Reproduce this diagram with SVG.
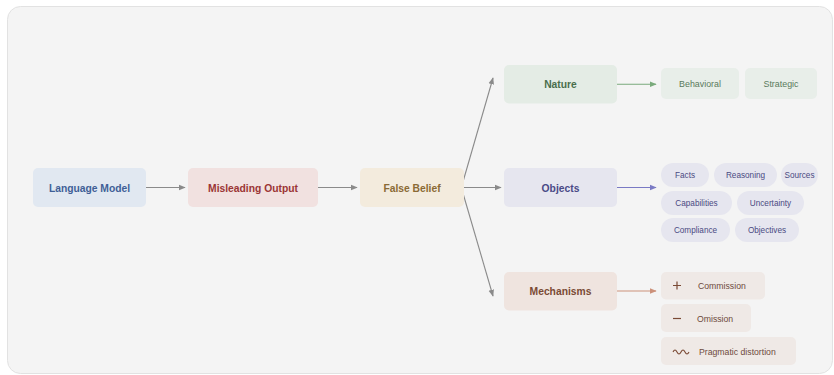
<svg xmlns="http://www.w3.org/2000/svg" width="834" height="375" viewBox="0 0 834 375">
<style>
text{font-family:"Liberation Sans",Arial,sans-serif;text-anchor:middle;dominant-baseline:central}
.t{font-size:10.3px;font-weight:bold}
.i{font-size:8.9px}
.p{font-size:8.2px;fill:#4a4a82}
.m{font-size:8.7px;fill:#6e4a3c;text-anchor:start}
.c{fill:none;stroke-width:1.1}
</style>
<defs>
<marker id="ag" viewBox="0 0 10 10" refX="9" refY="5" markerWidth="7" markerHeight="7" markerUnits="userSpaceOnUse" orient="auto"><path d="M0,1 L10,5 L0,9 z" fill="#8a8a8a"/></marker>
<marker id="agr" viewBox="0 0 10 10" refX="9" refY="5" markerWidth="7" markerHeight="7" markerUnits="userSpaceOnUse" orient="auto"><path d="M0,1 L10,5 L0,9 z" fill="#7aaa7c"/></marker>
<marker id="abl" viewBox="0 0 10 10" refX="9" refY="5" markerWidth="7" markerHeight="7" markerUnits="userSpaceOnUse" orient="auto"><path d="M0,1 L10,5 L0,9 z" fill="#7a7ac4"/></marker>
<marker id="abr" viewBox="0 0 10 10" refX="9" refY="5" markerWidth="7" markerHeight="7" markerUnits="userSpaceOnUse" orient="auto"><path d="M0,1 L10,5 L0,9 z" fill="#cc917a"/></marker>
</defs>
<rect width="834" height="375" fill="#ffffff"/>
<rect x="7.5" y="6.5" width="825" height="367" rx="13" fill="#f4f4f4" stroke="#e2e2e2"/>
<g id="connectors">
<line class="c" x1="146" y1="187.5" x2="185" y2="187.5" stroke="#8a8a8a" marker-end="url(#ag)"/>
<line class="c" x1="318" y1="187.5" x2="357" y2="187.5" stroke="#8a8a8a" marker-end="url(#ag)"/>
<line class="c" x1="464" y1="187.5" x2="501" y2="187.5" stroke="#8a8a8a" marker-end="url(#ag)"/>
<line class="c" x1="463.5" y1="180" x2="493" y2="78" stroke="#8a8a8a" marker-end="url(#ag)"/>
<line class="c" x1="463.5" y1="195" x2="493" y2="296" stroke="#8a8a8a" marker-end="url(#ag)"/>
<line class="c" x1="617" y1="84.3" x2="656" y2="84.3" stroke="#7aaa7c" marker-end="url(#agr)"/>
<line class="c" x1="617" y1="187.5" x2="656" y2="187.5" stroke="#7a7ac4" marker-end="url(#abl)"/>
<line class="c" x1="617" y1="291" x2="656" y2="291" stroke="#cc917a" marker-end="url(#abr)"/>
</g>
<g id="language-model"><rect x="33" y="168" width="113" height="39" rx="5" fill="#e1e8f1"/><text class="t" x="89.5" y="188" fill="#3f5f97">Language Model</text></g>
<g id="misleading-output"><rect x="188" y="168" width="130" height="39" rx="5" fill="#f1e1e0"/><text class="t" x="253" y="188" fill="#9b3535">Misleading Output</text></g>
<g id="false-belief"><rect x="360" y="168" width="104" height="39" rx="5" fill="#f3ebdd"/><text class="t" x="412" y="188" fill="#8a6a35">False Belief</text></g>
<g id="nature"><rect x="504" y="65" width="113" height="38.5" rx="5" fill="#e4ece5"/><text class="t" x="560.5" y="84.5" fill="#4a6e4c">Nature</text></g>
<g id="objects"><rect x="504" y="168" width="113" height="39" rx="5" fill="#e6e6ef"/><text class="t" x="560.5" y="188" fill="#4a4a87">Objects</text></g>
<g id="mechanisms"><rect x="504" y="272" width="113" height="38.5" rx="5" fill="#efe4df"/><text class="t" x="560.5" y="291.5" fill="#7a4a35">Mechanisms</text></g>
<g id="behavioral"><rect x="661" y="68" width="78" height="31" rx="5" fill="#e8eee9"/><text class="i" x="700" y="84" fill="#5a7a5c">Behavioral</text></g>
<g id="strategic"><rect x="745" y="68" width="72" height="31" rx="5" fill="#e8eee9"/><text class="i" x="781" y="84" fill="#5a7a5c">Strategic</text></g>
<g id="facts"><rect x="661" y="163" width="48" height="24" rx="12" fill="#e6e6ef"/><text class="p" x="685" y="175.5">Facts</text></g>
<g id="reasoning"><rect x="714" y="163" width="63" height="24" rx="12" fill="#e6e6ef"/><text class="p" x="745.5" y="175.5">Reasoning</text></g>
<g id="sources"><rect x="781" y="163" width="37" height="24" rx="12" fill="#e6e6ef"/><text class="p" x="799.5" y="175.5">Sources</text></g>
<g id="capabilities"><rect x="661" y="191" width="71" height="24" rx="12" fill="#e6e6ef"/><text class="p" x="696.5" y="203.5">Capabilities</text></g>
<g id="uncertainty"><rect x="737" y="191" width="67" height="24" rx="12" fill="#e6e6ef"/><text class="p" x="770.5" y="203.5">Uncertainty</text></g>
<g id="compliance"><rect x="661" y="218" width="69" height="24" rx="12" fill="#e6e6ef"/><text class="p" x="695.5" y="230.5">Compliance</text></g>
<g id="objectives"><rect x="735" y="218" width="64" height="24" rx="12" fill="#e6e6ef"/><text class="p" x="767" y="230.5">Objectives</text></g>
<g id="commission"><rect x="661" y="272" width="104" height="27.5" rx="5" fill="#efe9e6"/><path d="M673,285.5 H681 M677,281.5 V289.5" stroke="#7a4a35" stroke-width="1.2" fill="none"/><text class="m" x="698" y="286">Commission</text></g>
<g id="omission"><rect x="661" y="304" width="90" height="28" rx="5" fill="#efe9e6"/><path d="M673,318.5 H681" stroke="#7a4a35" stroke-width="1.2" fill="none"/><text class="m" x="697" y="319">Omission</text></g>
<g id="pragmatic-distortion"><rect x="661" y="337" width="135" height="28" rx="5" fill="#efe9e6"/><path d="M673,352 q2,-4 4,0 t4,0 t4,0 t4,0" stroke="#7a4a35" stroke-width="1.1" fill="none"/><text class="m" x="699" y="351.5">Pragmatic distortion</text></g>
</svg>
